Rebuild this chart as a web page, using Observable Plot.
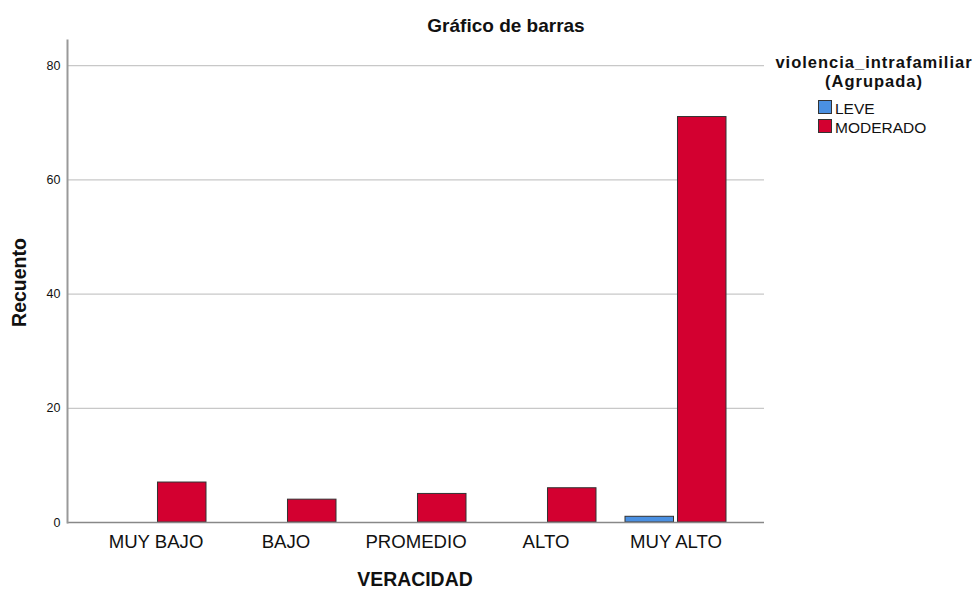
<!DOCTYPE html>
<html>
<head>
<meta charset="utf-8">
<script src="https://cdn.jsdelivr.net/npm/d3@7"></script>
<script src="https://cdn.jsdelivr.net/npm/@observablehq/plot@0.6"></script>
<style>
  html, body { margin: 0; padding: 0; background: #fff; }
  #wrap { position: relative; width: 977px; height: 589px; font-family: "Liberation Sans", Arial, sans-serif; color: #111; overflow: hidden; }
  #wrap svg { position: absolute; left: 0; top: 0; }
  .t { position: absolute; white-space: nowrap; }
</style>
</head>
<body>
<div id="wrap"></div>
<script>
const categories = ["MUY BAJO", "BAJO", "PROMEDIO", "ALTO", "MUY ALTO"];
const groups = ["LEVE", "MODERADO"];
const leve = [0, 0, 0, 0, 1];
const moderado = [7, 4, 5, 6, 71];
const yTicks = [0, 20, 40, 60, 80];
const colors = ["#4a90e2", "#d30030"];

const W = 977, H = 589, mL = 67, mR = 213, mT = 40, mB = 67;
const xOpts = {type: "band", domain: categories, paddingInner: 0.224, paddingOuter: 0.29, range: [mL, W - mR]};
const bw = Plot.scale({x: xOpts}).bandwidth;
const gap = 4;

const leveRows = categories.map((c, i) => ({cat: c, grp: groups[0], value: leve[i]})).filter(d => d.value > 0);
const modRows = categories.map((c, i) => ({cat: c, grp: groups[1], value: moderado[i]})).filter(d => d.value > 0);

const chart = Plot.plot({
  width: W,
  height: H,
  marginLeft: mL,
  marginRight: mR,
  marginTop: mT,
  marginBottom: mB,
  style: {fontFamily: "'Liberation Sans', Arial, sans-serif", color: "#111", background: "transparent"},
  x: {domain: categories, paddingInner: 0.224, paddingOuter: 0.29, label: null},
  y: {domain: [0, 84.4], label: null},
  color: {domain: groups, range: colors},
  marks: [
    Plot.ruleY(yTicks.filter(d => d > 0), {stroke: "#c8c8c8", strokeWidth: 1.2}),
    Plot.barY(leveRows, {x: "cat", y: "value", fill: "grp", stroke: "#333", strokeWidth: 1, insetRight: bw / 2 + gap / 2}),
    Plot.barY(modRows, {x: "cat", y: "value", fill: "grp", stroke: "#333", strokeWidth: 1, insetLeft: bw / 2 + gap / 2}),
    Plot.ruleY([0], {stroke: "#888", strokeWidth: 1.6}),
    Plot.frame({anchor: "left", stroke: "#999", strokeWidth: 2}),
    Plot.axisY({ticks: yTicks, tickSize: 0, tickPadding: 7, fontSize: 12.5, label: null}),
    Plot.axisX({tickSize: 0, tickPadding: 12, fontSize: 18.6, label: null})
  ]
});

const wrap = document.getElementById("wrap");
wrap.appendChild(chart);

function addText(txt, css) {
  const d = document.createElement("div");
  d.className = "t";
  d.textContent = txt;
  Object.assign(d.style, css);
  wrap.appendChild(d);
  return d;
}

addText("Gráfico de barras", {left: "406px", width: "200px", textAlign: "center", top: "16px", fontSize: "19px", fontWeight: "bold", lineHeight: "19px"});
addText("VERACIDAD", {left: "315px", width: "200px", textAlign: "center", top: "570px", fontSize: "19.4px", fontWeight: "bold", lineHeight: "19px"});
addText("Recuento", {left: "-81px", width: "200px", textAlign: "center", top: "273px", fontSize: "19.5px", fontWeight: "bold", lineHeight: "19px", transform: "rotate(-90deg)", transformOrigin: "50% 50%"});

addText("violencia_intrafamiliar", {left: "764px", width: "220px", textAlign: "center", top: "54px", fontSize: "16.5px", fontWeight: "bold", lineHeight: "17px", letterSpacing: "1px"});
addText("(Agrupada)", {left: "764px", width: "220px", textAlign: "center", top: "72.5px", fontSize: "16.5px", fontWeight: "bold", lineHeight: "17px", letterSpacing: "1px"});

groups.forEach((g, i) => {
  const sw = document.createElement("div");
  Object.assign(sw.style, {position: "absolute", left: "818px", top: (100 + 19 * i) + "px", width: "14px", height: "14px", background: colors[i], border: "1px solid #333", boxSizing: "border-box"});
  wrap.appendChild(sw);
  addText(g, {left: "835px", top: (101 + 19 * i) + "px", fontSize: "15.5px", lineHeight: "15px"});
});
</script>
</body>
</html>
